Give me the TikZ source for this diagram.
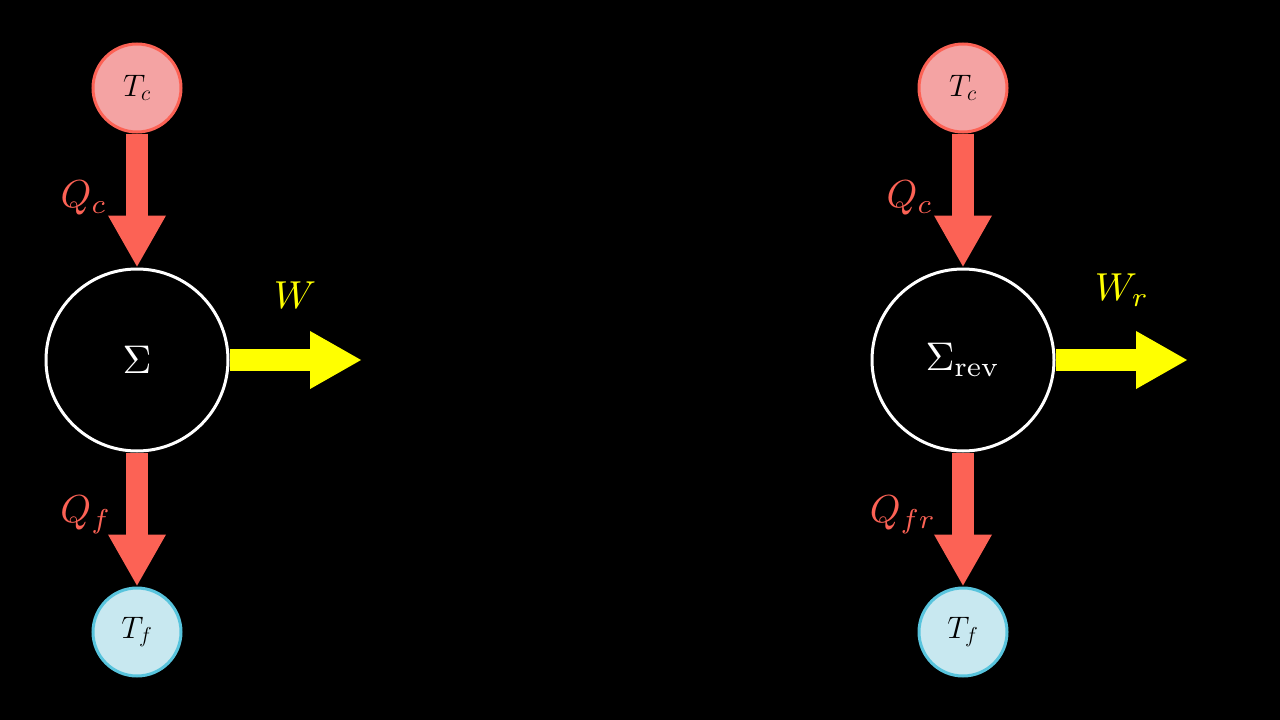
\documentclass[tikz,border=0pt]{standalone}
\usetikzlibrary{arrows.meta}
\definecolor{hot}{HTML}{FC6255}
\definecolor{hotfill}{HTML}{F4A3A3}
\definecolor{coldfill}{HTML}{C8E8F0}
\definecolor{coldline}{HTML}{58C4DD}
\definecolor{wy}{HTML}{FFFF00}
\begin{document}
\begin{tikzpicture}[x=1pt,y=-1pt,
 hotc/.style={circle,draw=hot,fill=hotfill,line width=3pt,minimum size=88pt,inner sep=0pt,text=black,font=\huge},
 coldc/.style={circle,draw=coldline,fill=coldfill,line width=3pt,minimum size=88pt,inner sep=0pt,text=black,font=\huge},
 eng/.style={circle,draw=white,fill=black,line width=3pt,minimum size=182pt,inner sep=0pt,text=white},
 harr/.style={draw=hot,line width=22pt,-{Triangle[width=54pt,length=52pt]}},
 warr/.style={draw=wy,line width=22pt,-{Triangle[width=54pt,length=52pt]}},
 lab/.style={scale=3.9,text=hot},
 wlab/.style={scale=3.9,text=wy}]
\fill[black] (0,0) rectangle (1280,720);
\useasboundingbox (0,0) rectangle (1280,720);
\foreach \dx/\id in {0/a,826/b}{
 \node[hotc] (tc\id) at (137+\dx,88) {\scalebox{1.5}{$T_c$}};
 \node[coldc] (tf\id) at (137+\dx,632) {\scalebox{1.5}{$T_f$}};
 \coordinate (wend\id) at (362+\dx,360);
}
\node[eng] (sa) at (137,360) {\scalebox{4}{$\Sigma$}};
\node[eng] (sb) at (963,360) {\scalebox{4}{$\Sigma_{\mathrm{rev}}$}};
\foreach \id in {a,b}{
 \draw[harr] (tc\id.south) -- (s\id.north);
 \draw[harr] (s\id.south) -- (tf\id.north);
 \draw[warr] (s\id.east) -- (wend\id);
}
\node[lab] (qca) at (84,198) {$Q_c$};
\node[lab] (qfa) at (86,515) {$Q_f$};
\node[wlab] (wa) at (295,295) {$W$};
\node[lab] (qcb) at (910,198) {$Q_c$};
\node[lab] (qfb) at (903,515) {$Q_{fr}$};
\node[wlab] (wb) at (1122,290) {$W_r$};
\end{tikzpicture}
\end{document}
